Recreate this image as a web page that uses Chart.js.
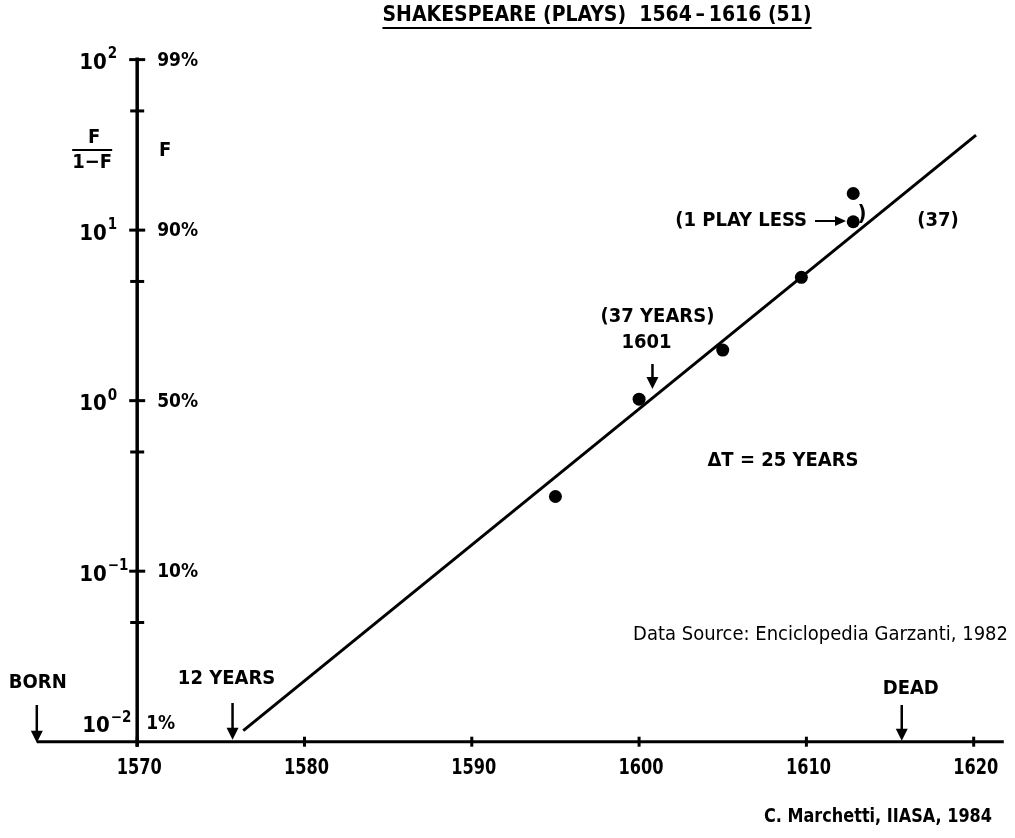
<!DOCTYPE html>
<html>
<head>
<meta charset="utf-8">
<script src="https://cdn.jsdelivr.net/npm/chart.js@4/dist/chart.umd.min.js"></script>
<style>
  html, body { margin: 0; padding: 0; background: #fff; }
  #wrap { width: 1015px; height: 838px; }
</style>
</head>
<body>
<div id="wrap"><canvas id="c" width="1015" height="838"></canvas></div>
<script>
// ---------- data ----------
const playYears = [1595, 1600, 1605, 1609.7, 1612.8, 1612.8];
const playRatios = [0.274, 1.02, 1.98, 5.29, 11.2, 16.4];
const fitYears = [1576.34, 1620.14];
const fitRatios = [0.0116, 36.1];
const xTickValues = [1570, 1580, 1590, 1600, 1610, 1620];
const xTickLabels = ['1570', '1580', '1590', '1600', '1610', '1620'];
const yMajorTicks = [0.01, 0.1, 1, 10, 100];
const yExponentLabels = ['\u22122', '\u22121', '0', '1', '2'];
const yPercentLabels = ['1%', '10%', '50%', '90%', '99%'];
const yMinorTicks = [0.05, 0.5, 5, 50];
const eventYears = { born: 1564, twelve: 1575.7, half: 1600.8, dead: 1615.7 };
const xRange = [1564, 1621.8];
const yRange = [0.01, 100];
const yAxisYear = 1570;

const FONT = '"Liberation Sans Narrow", "DejaVu Sans Condensed", "Liberation Sans", sans-serif';

function txt(ctx, s, x, y, size, align, weight, maxW) {
  ctx.font = (weight || 'bold') + ' ' + size + 'px ' + FONT;
  ctx.textAlign = align || 'center';
  ctx.textBaseline = 'middle';
  if (maxW) ctx.fillText(s, x, y, maxW); else ctx.fillText(s, x, y);
}
function arrowDown(ctx, x, y0, y1) {
  ctx.beginPath(); ctx.moveTo(x, y0); ctx.lineTo(x, y1 - 8); ctx.lineWidth = 2.5; ctx.stroke();
  ctx.beginPath(); ctx.moveTo(x - 6, y1 - 12); ctx.lineTo(x + 6, y1 - 12); ctx.lineTo(x, y1); ctx.closePath(); ctx.fill();
}
function arrowRight(ctx, x0, x1, y) {
  ctx.beginPath(); ctx.moveTo(x0, y); ctx.lineTo(x1 - 8, y); ctx.lineWidth = 2; ctx.stroke();
  ctx.beginPath(); ctx.moveTo(x1 - 11, y - 5); ctx.lineTo(x1 - 11, y + 5); ctx.lineTo(x1, y); ctx.closePath(); ctx.fill();
}

const axesPlugin = {
  id: 'axesPlugin',
  beforeDatasetsDraw(chart) {
    const ctx = chart.ctx, xs = chart.scales.x, ys = chart.scales.y;
    ctx.save();
    ctx.strokeStyle = '#000'; ctx.fillStyle = '#000'; ctx.lineCap = 'butt';
    const ax = xs.getPixelForValue(yAxisYear);
    const ay = ys.getPixelForValue(yRange[0]);
    // x axis
    ctx.lineWidth = 3;
    ctx.beginPath(); ctx.moveTo(xs.getPixelForValue(xRange[0]), ay); ctx.lineTo(xs.getPixelForValue(xRange[1]), ay); ctx.stroke();
    // y axis
    ctx.lineWidth = 3.5;
    ctx.beginPath(); ctx.moveTo(ax, ay + 5); ctx.lineTo(ax, ys.getPixelForValue(yRange[1]) - 2); ctx.stroke();
    // x ticks + labels
    ctx.lineWidth = 3;
    xTickValues.forEach((v, i) => {
      const px = xs.getPixelForValue(v);
      ctx.beginPath(); ctx.moveTo(px, ay - 5); ctx.lineTo(px, ay + 5); ctx.stroke();
      txt(ctx, xTickLabels[i], px + 2, ay + 27, 22, 'center', 'bold', 45);
    });
    // y ticks
    yMajorTicks.forEach((v, i) => {
      const py = ys.getPixelForValue(v);
      const bottom = (i === 0);
      const dy = bottom ? -19 : 0;
      if (!bottom) { ctx.lineWidth = 3; ctx.beginPath(); ctx.moveTo(ax - 8, py); ctx.lineTo(ax + 8, py); ctx.stroke(); }
      // left label 10^n
      ctx.font = 'bold 22px ' + FONT; ctx.textAlign = 'left'; ctx.textBaseline = 'middle';
      const lx = ax - (bottom ? 55 : 58);
      ctx.fillText('10', lx, py + 4 + dy);
      const w = ctx.measureText('10').width;
      ctx.font = 'bold 15px ' + FONT;
      ctx.fillText(yExponentLabels[i], lx + w + 1, py - 5 + dy);
      // right label percent
      txt(ctx, yPercentLabels[i], ax + (bottom ? 9 : 20), py + 1 + dy, 19, 'left');
    });
    yMinorTicks.forEach(v => {
      const py = ys.getPixelForValue(v);
      ctx.lineWidth = 3; ctx.beginPath(); ctx.moveTo(ax - 7, py); ctx.lineTo(ax + 7, py); ctx.stroke();
    });
    // axis captions
    txt(ctx, 'F', ax - 43, 138, 20);
    ctx.lineWidth = 2; ctx.beginPath(); ctx.moveTo(ax - 65, 150); ctx.lineTo(ax - 25, 150); ctx.stroke();
    txt(ctx, '1\u2212F', ax - 45, 163, 20);
    txt(ctx, 'F', ax + 28, 151, 20);
    ctx.restore();
  },
  afterDatasetsDraw(chart) {
    const ctx = chart.ctx, xs = chart.scales.x, ys = chart.scales.y;
    ctx.save();
    ctx.strokeStyle = '#000'; ctx.fillStyle = '#000';
    const ay = ys.getPixelForValue(yRange[0]);
    // title
    const title = 'SHAKESPEARE (PLAYS)  1564\u2009\u2013\u20091616 (51)';
    txt(ctx, title, 597, 16, 21);
    ctx.font = 'bold 21px ' + FONT;
    const tw = ctx.measureText(title).width;
    ctx.lineWidth = 2; ctx.beginPath(); ctx.moveTo(597 - tw / 2, 28); ctx.lineTo(597 + tw / 2, 28); ctx.stroke();
    // born
    const bx = xs.getPixelForValue(eventYears.born);
    txt(ctx, 'BORN', bx + 1, 683, 20);
    arrowDown(ctx, bx, 705, ay + 1);
    // 12 years
    const tx = xs.getPixelForValue(eventYears.twelve);
    txt(ctx, '12 YEARS', tx - 6, 679, 20);
    arrowDown(ctx, tx, 703, ay - 2);
    // dead
    const dx = xs.getPixelForValue(eventYears.dead);
    txt(ctx, 'DEAD', dx + 9, 689, 20);
    arrowDown(ctx, dx, 705, ay - 1);
    // 1601 midpoint
    const hx = xs.getPixelForValue(eventYears.half);
    txt(ctx, '(37 YEARS)', hx + 5, 317, 20);
    txt(ctx, '1601', hx - 6, 343, 20);
    arrowDown(ctx, hx, 364, 389);
    // 1 play less
    txt(ctx, '(1 PLAY LESS', 807, 221, 20, 'right');
    arrowRight(ctx, 815, 846, 221);
    txt(ctx, ')', 862, 214, 22);
    txt(ctx, '(37)', 938, 221, 20);
    // delta T
    txt(ctx, '\u0394T = 25 YEARS', 783, 461, 20);
    // sources
    txt(ctx, 'Data Source: Enciclopedia Garzanti, 1982', 1008, 635, 20, 'right', 'normal');
    txt(ctx, 'C. Marchetti, IIASA, 1984', 992, 817, 20, 'right', 'bold', 228);
    ctx.restore();
  }
};

const playPoints = playYears.map((y, i) => ({ x: y, y: playRatios[i] }));
const fitPoints = fitYears.map((y, i) => ({ x: y, y: fitRatios[i] }));

new Chart(document.getElementById('c'), {
  type: 'scatter',
  data: {
    datasets: [
      { label: 'fit', data: fitPoints, showLine: true, borderColor: '#000', borderWidth: 3,
        pointRadius: 0, fill: false, order: 2 },
      { label: 'plays', data: playPoints, backgroundColor: '#000', borderColor: '#000',
        pointRadius: 6.5, pointHoverRadius: 6.5, borderWidth: 0, order: 1 }
    ]
  },
  options: {
    responsive: false,
    animation: false,
    devicePixelRatio: 1,
    layout: { padding: { left: 36.8, right: 11.2, top: 59.6, bottom: 96.3 } },
    plugins: { legend: { display: false }, title: { display: false }, tooltip: { enabled: false } },
    scales: {
      x: { type: 'linear', min: xRange[0], max: xRange[1], display: false },
      y: { type: 'logarithmic', min: yRange[0], max: yRange[1], display: false }
    },
    events: []
  },
  plugins: [axesPlugin]
});
</script>
</body>
</html>
